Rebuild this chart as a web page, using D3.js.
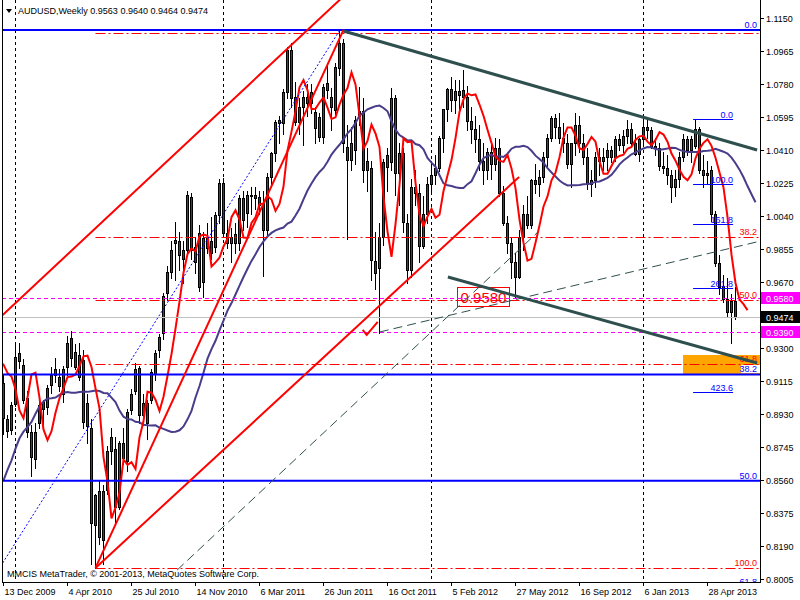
<!DOCTYPE html>
<html><head><meta charset="utf-8">
<script src="https://cdn.jsdelivr.net/npm/d3@7"></script>
<style>
body{margin:0;background:#fff}
svg{display:block}
text{font-family:"Liberation Sans",Arial,sans-serif;font-size:9px}
</style></head>
<body><svg id="c" width="800" height="600"></svg>
<script>
// ---------- DATA (weekly AUDUSD) ----------
const opens=[.9105,.8900,.8840,.8985,.9270,.9205,.9020,.8830,.8675,.8880,
.8960,.8970,.9090,.9150,.9135,.9040,.9195,.9355,.9275,.9260,
.9230,.8990,.8850,.8310,.8500,.8225,.8505,.8725,.8735,.8410,
.8770,.8665,.8952,.9059,.9188,.8992,.8880,.9009,.9154,.9289,
.9384,.9608,.9726,.9890,.9900,.9849,.9849,1.0147,.9866,.9945,
.9670,.9925,.9900,.9866,1.0046,1.0225,.9945,.9890,.9890,.9890,
1.0141,1.0057,1.0150,1.0158,1.0147,1.0113,.9962,1.0259,1.0394,1.0561,
1.0561,1.0735,1.0970,1.0707,1.0567,1.0650,1.0707,1.0673,1.0623,1.0595,
1.0483,1.0785,1.0707,1.0634,1.0870,1.1010,1.0427,1.0354,1.0410,1.0600,
1.0630,1.0300,1.0310,.9790,.9750,.9923,1.0315,1.0340,1.0700,1.0281,
1.0393,1.0000,.9740,1.0200,1.0170,.9870,1.0050,1.0220,1.0270,1.0310,
1.0480,1.0640,1.0750,1.0690,1.0740,1.0745,1.0705,1.0570,1.0530,1.0470,
1.0350,1.0300,1.0400,1.0330,1.0420,1.0170,1.0000,.9890,.9780,.9700,
.9920,1.0050,.9990,1.0240,1.0220,1.0260,1.0370,1.0480,1.0590,1.0540,
1.0480,1.0450,1.0330,1.0450,1.0550,1.0450,1.0370,1.0220,1.0240,1.0370,
1.0350,1.0370,1.0410,1.0370,1.0470,1.0440,1.0490,1.0530,1.0450,1.0390,
1.0470,1.0540,1.0520,1.0430,1.0420,1.0320,1.0310,1.0270,1.0200,1.0250,
1.0370,1.0470,1.0410,1.0430,1.0530,1.0300,1.0270,1.0300,1.0050,.9777,
.9650,.9575,.9500,.9563];
const highs=[.9150,.8925,.9000,.9320,.9330,.9240,.9060,.8870,.8880,.9020,
.9010,.9090,.9195,.9245,.9180,.9200,.9365,.9395,.9320,.9330,
.9290,.9040,.8900,.8480,.8560,.8530,.8750,.8850,.8800,.8780,
.8850,.8960,.9070,.9216,.9200,.9040,.9010,.9180,.9290,.9380,
.9610,.9760,.9900,1.0006,.9950,.9900,1.0180,1.0170,.9920,.9990,
.9950,1.0000,1.0034,1.0060,1.0250,1.0255,1.0020,.9970,1.0000,1.0160,
1.0180,1.0180,1.0200,1.0200,1.0180,1.0180,1.0280,1.0400,1.0580,1.0600,
1.0750,1.0990,1.1012,1.0790,1.0700,1.0740,1.0780,1.0780,1.0650,1.0620,
1.0780,1.0880,1.0760,1.0900,1.1080,1.1030,1.0550,1.0540,1.0600,1.0765,
1.0700,1.0420,1.0350,.9950,1.0000,1.0360,1.0420,1.0758,1.0720,1.0450,
1.0420,1.0050,1.0250,1.0300,1.0220,1.0150,1.0260,1.0350,1.0380,1.0490,
1.0640,1.0760,1.0820,1.0800,1.0800,1.0856,1.0770,1.0650,1.0600,1.0550,
1.0450,1.0420,1.0440,1.0480,1.0470,1.0210,1.0040,.9920,.9830,.9960,
1.0100,1.0150,1.0250,1.0330,1.0300,1.0400,1.0500,1.0600,1.0610,1.0620,
1.0560,1.0500,1.0450,1.0620,1.0600,1.0500,1.0420,1.0300,1.0400,1.0420,
1.0420,1.0450,1.0430,1.0490,1.0500,1.0520,1.0580,1.0560,1.0500,1.0480,
1.0600,1.0580,1.0540,1.0480,1.0450,1.0400,1.0380,1.0300,1.0300,1.0400,
1.0500,1.0490,1.0490,1.0581,1.0540,1.0380,1.0350,1.0320,1.0070,.9820,
.9710,.9690,.9600,.9640];
const lows=[.8820,.8800,.8820,.8975,.9190,.8990,.8800,.8580,.8625,.8850,
.8860,.8930,.9050,.9110,.9060,.9000,.9150,.9200,.9180,.9120,
.8850,.8767,.8090,.8067,.8200,.8090,.8480,.8650,.8320,.8400,
.8650,.8610,.8930,.9040,.8880,.8870,.8790,.8990,.9120,.9250,
.9350,.9570,.9690,.9681,.9740,.9664,.9820,.9800,.9720,.9620,
.9586,.9830,.9800,.9840,1.0000,.9920,.9860,.9780,.9830,.9850,
.9960,.9980,1.0050,1.0080,1.0050,.9706,.9930,1.0220,1.0350,1.0450,
1.0500,1.0700,1.0650,1.0550,1.0500,1.0438,1.0600,1.0620,1.0450,1.0460,
1.0450,1.0700,1.0520,1.0600,1.0830,1.0400,.9912,1.0300,1.0330,1.0550,
1.0230,1.0180,.9680,.9630,.9386,.9880,1.0180,1.0300,1.0160,1.0100,
.9950,.9663,.9700,1.0100,.9780,.9860,1.0000,1.0180,1.0220,1.0290,
1.0400,1.0570,1.0630,1.0620,1.0620,1.0650,1.0520,1.0450,1.0400,1.0300,
1.0220,1.0250,1.0250,1.0300,1.0150,.9990,.9830,.9690,.9581,.9690,
.9850,.9970,.9970,1.0170,1.0150,1.0230,1.0320,1.0460,1.0480,1.0450,
1.0400,1.0310,1.0200,1.0380,1.0400,1.0330,1.0190,1.0150,1.0200,1.0270,
1.0300,1.0300,1.0340,1.0350,1.0410,1.0400,1.0450,1.0440,1.0380,1.0350,
1.0450,1.0480,1.0420,1.0380,1.0300,1.0280,1.0220,1.0120,1.0150,1.0200,
1.0350,1.0380,1.0340,1.0420,1.0280,1.0200,1.0220,1.0010,.9760,.9600,
.9560,.9480,.9328,.9464];
const closes=[.8905,.8835,.8980,.9250,.9225,.9010,.8830,.8690,.8830,.8980,
.9000,.9075,.9150,.9185,.9085,.9185,.9330,.9245,.9195,.9140,
.8885,.8860,.8320,.8475,.8240,.8500,.8725,.8800,.8410,.8770,
.8685,.8940,.9042,.9182,.8924,.8924,.8992,.9165,.9272,.9362,
.9591,.9726,.9849,.9905,.9821,.9800,1.0158,.9849,.9780,.9642,
.9917,.9860,.9830,1.0046,1.0225,.9945,.9890,.9922,.9940,1.0141,
1.0018,1.0158,1.0155,1.0141,1.0102,.9962,1.0259,1.0394,1.0567,1.0578,
1.0735,1.0970,1.0701,1.0567,1.0650,1.0705,1.0673,1.0735,1.0533,1.0483,
1.0763,1.0746,1.0651,1.0875,1.1010,1.0449,1.0354,1.0450,1.0578,1.0630,
1.0300,1.0350,.9793,.9720,.9920,1.0343,1.0382,1.0700,1.0281,1.0393,
1.0008,.9740,1.0200,1.0170,.9870,1.0050,1.0220,1.0270,1.0310,1.0480,
1.0640,1.0750,1.0690,1.0740,1.0720,1.0705,1.0570,1.0530,1.0470,1.0350,
1.0300,1.0400,1.0330,1.0420,1.0170,1.0000,.9890,.9780,.9700,.9920,
1.0050,.9990,1.0240,1.0220,1.0260,1.0370,1.0480,1.0590,1.0540,1.0480,
1.0450,1.0330,1.0450,1.0550,1.0450,1.0370,1.0220,1.0240,1.0370,1.0350,
1.0370,1.0410,1.0370,1.0470,1.0440,1.0490,1.0530,1.0450,1.0390,1.0470,
1.0540,1.0520,1.0430,1.0420,1.0320,1.0310,1.0270,1.0200,1.0250,1.0370,
1.0470,1.0410,1.0470,1.0530,1.0300,1.0270,1.0280,1.0050,.9777,.9642,
.9575,.9500,.9563,.9474];
// closes of the 25 weeks before the first visible bar (only feed the moving averages at the left edge)
const priorCloses=[.7950,.7990,.7800,.7900,.8120,.8300,.8380,.8280,.8360,.8420,
.8480,.8660,.8760,.8660,.8760,.8980,.9230,.9180,.9010,.9170,
.9330,.9170,.9120,.9190,.9110];

const dateLabels=["13 Dec 2009","4 Apr 2010","25 Jul 2010","14 Nov 2010","6 Mar 2011","26 Jun 2011","16 Oct 2011","5 Feb 2012","27 May 2012","16 Sep 2012","6 Jan 2013","28 Apr 2013"];
const dateLabelBars=[0,16,32,48,64,80,96,112,128,144,160,176];
const yearSeparatorBars=[3,55,107,160];
const priceTicks=[1.1150,1.0965,1.0780,1.0595,1.0410,1.0225,1.0040,0.9855,0.9670,0.9300,0.9115,0.8930,0.8745,0.8560,0.8375,0.8190,0.8005];

// indicators: fast and slow moving averages of the closes (period, forward shift in bars)
const fastMA={period:3,shift:3};
const slowMA={period:21,shift:5};

// drawn objects (bar index, price)
const bigFib={p0:1.1083,p100:0.6028,levels:[0,38.2,50,61.8]};
const redFib={startBar:23,p0:1.1066,p100:0.8067,levels:[0,38.2,50,61.8,100]};
const expFib={fromBar:172.4,toBar:182.4,p0:1.0581,p100:1.0220,levels:[0,100,161.8,261.8,423.6]};
const hLevels=[{p:0.9580,label:"0.9580"},{p:0.9390,label:"0.9390"}];
const redTrends=[[[-0.2,0.9485],[76,1.1083]],[[23,0.8067],[128.9,1.0259]],[[23,0.8067],[85,1.1083]]];
const blueDotted=[[-0.2,0.8095],[84.1,1.1083]];
const slateTrends=[[[85,1.1077],[188.4,1.0410]],[[111.1,0.9698],[188.4,0.9216]]];
const slateDashed=[[[43.4,0.8055],[133.6,0.9950]],[[94.1,0.9390],[188.4,0.9895]]];
const zoneBox={fromBar:169.9,toBar:189,pTop:0.9262,pBot:0.9154};
const priceNote={bar:120,p:0.9580,text:"0.9580"};
const checkMark={bar:90.8,p:0.9385};

// ---------- SCALES ----------
const svg=d3.select("#c");
const x=d3.scaleLinear().domain([0,183]).range([3.5,3.5+4*183]);
const y=d3.scaleLinear().domain([0.8005,1.1150]).range([579,18]);
const R=v=>Math.round(v);
const plotL=2,plotR=760,plotB=582;

svg.append("rect").attr("width",800).attr("height",600).attr("fill","#fff");
const defs=svg.append("defs");
defs.append("clipPath").attr("id","plot").append("rect").attr("x",plotL).attr("y",0).attr("width",plotR-plotL).attr("height",plotB);
const g=svg.append("g").attr("clip-path","url(#plot)");

// year separators
yearSeparatorBars.forEach(b=>{
  g.append("line").attr("x1",x(b)).attr("x2",x(b)).attr("y1",0).attr("y2",plotB)
   .attr("stroke","#000").attr("stroke-dasharray","3,3").attr("stroke-width",1);
});

// candles
const cg=g.append("g").attr("shape-rendering","crispEdges");
closes.forEach((c,i)=>{
  const o=opens[i],h=highs[i],l=lows[i];
  const cx=x(i);
  const yh=R(y(h)),yl=R(y(l));
  cg.append("rect").attr("x",cx-0.5).attr("y",yh).attr("width",1).attr("height",Math.max(1,yl-yh+1)).attr("fill","#000");
  const top=R(y(Math.max(o,c))),bot=R(y(Math.min(o,c)));
  cg.append("rect").attr("x",cx-1.5).attr("y",top).attr("width",3).attr("height",bot-top+1).attr("fill","#000");
  if(bot-top>1) cg.append("rect").attr("x",cx-0.5).attr("y",top+1).attr("width",1).attr("height",bot-top-1)
     .attr("fill",c>=o?"#007800":"#e00000");
});

// moving averages
const allCloses=priorCloses.concat(closes);
function sma(period,shift){
  const out=[];
  for(let k=period-1;k<allCloses.length;k++){
    const v=d3.mean(allCloses.slice(k-period+1,k+1));
    const i=k-priorCloses.length+shift;
    if(i>=-1) out.push({i,v});
  }
  return out;
}
const line=d3.line().x(d=>x(d.i)).y(d=>y(d.v));
g.append("path").attr("d",line(sma(slowMA.period,slowMA.shift))).attr("fill","none").attr("stroke","#483d8b").attr("stroke-width",2);
g.append("path").attr("d",line(sma(fastMA.period,fastMA.shift))).attr("fill","none").attr("stroke","#ff0000").attr("stroke-width",2);

// price note box
{
  const cx=x(priceNote.bar),cy=y(priceNote.p);
  g.append("rect").attr("x",R(cx)-26.5).attr("y",R(cy)-10.5).attr("width",52).attr("height",19).attr("fill","none").attr("stroke","#ff0000");
  g.append("text").attr("x",cx).attr("y",cy+5).attr("text-anchor","middle").attr("fill","#ff0000").style("font-size","15px").text(priceNote.text);
}

// orange zone
{
  const zx=R(x(zoneBox.fromBar)),zy=R(y(zoneBox.pTop));
  g.append("rect").attr("x",zx).attr("y",zy).attr("width",R(x(zoneBox.toBar))-zx)
   .attr("height",R(y(zoneBox.pBot))-zy).attr("fill","#ffa500");
}

// horizontal levels
const hl=(p,x1,x2,col,w,dash)=>g.append("line").attr("x1",x1).attr("x2",x2).attr("y1",R(y(p))+0.5).attr("y2",R(y(p))+0.5)
  .attr("stroke",col).attr("stroke-width",w).attr("stroke-dasharray",dash||null);
hl(closes[closes.length-1],plotL,plotR,"#c0c0c0",1);
hLevels.forEach(d=>hl(d.p,plotL,plotR,"#ff00ff",1,"4,3"));
redFib.levels.forEach(lv=>{
  const p=redFib.p0-(redFib.p0-redFib.p100)*lv/100;
  hl(p,x(redFib.startBar),plotR,"#ff0000",1,"10,3,2,3");
  if(lv>0) g.append("text").attr("x",757).attr("y",R(y(p))-2).attr("text-anchor","end").attr("fill","#ff0000").text(lv.toFixed(1));
});
bigFib.levels.forEach(lv=>{
  const p=bigFib.p0-(bigFib.p0-bigFib.p100)*lv/100;
  g.append("line").attr("x1",plotL).attr("x2",plotR).attr("y1",y(p)).attr("y2",y(p)).attr("stroke","#0000ff").attr("stroke-width",2);
});
expFib.levels.forEach(lv=>{
  const p=expFib.p0-(expFib.p0-expFib.p100)*lv/100;
  g.append("line").attr("x1",x(expFib.fromBar)).attr("x2",x(expFib.toBar)).attr("y1",R(y(p))+0.5).attr("y2",R(y(p))+0.5).attr("stroke","#0000ff");
  g.append("text").attr("x",x(expFib.toBar)).attr("y",R(y(p))-1).attr("text-anchor","end").attr("fill","#0000ff").text(lv.toFixed(1));
});

// trend lines
const seg=(a,b,col,w,dash)=>g.append("line").attr("x1",x(a[0])).attr("y1",y(a[1])).attr("x2",x(b[0])).attr("y2",y(b[1]))
   .attr("stroke",col).attr("stroke-width",w).attr("stroke-dasharray",dash||null);
seg(blueDotted[0],blueDotted[1],"#0000ff",1,"2,2");
slateDashed.forEach(s=>seg(s[0],s[1],"#2f4f4f",1,"9,5"));
{
  const [a,b]=redTrends[0];const k=(b[1]-a[1])/(b[0]-a[0]);const e=[b[0]+20,b[1]+k*20];
  seg(a,e,"#ff0000",2);
}
seg(redTrends[1][0],redTrends[1][1],"#ff0000",2);
seg(redTrends[2][0],redTrends[2][1],"#ff0000",2);
slateTrends.forEach(s=>seg(s[0],s[1],"#2f4f4f",3));

// check mark
{
  const cx=x(checkMark.bar),cy=y(checkMark.p);
  g.append("path").attr("d",`M${cx-4},${cy-3} L${cx},${cy+2} L${cx+11},${cy-11}`).attr("fill","none").attr("stroke","#ff0000").attr("stroke-width",2);
}

// big fib labels (on top); white patch behind the 38.2 label as in the picture
bigFib.levels.forEach(lv=>{
  const p=bigFib.p0-(bigFib.p0-bigFib.p100)*lv/100;
  const ly=R(y(p));
  if(lv===38.2) g.append("rect").attr("x",741).attr("y",ly-9).attr("width",19).attr("height",8).attr("fill","#fff");
  g.append("text").attr("x",757).attr("y",ly-2).attr("text-anchor","end").attr("fill","#0000ff").text(lv.toFixed(1));
});

// frame
svg.append("line").attr("x1",2.5).attr("x2",2.5).attr("y1",0).attr("y2",plotB).attr("stroke","#000");
svg.append("line").attr("x1",plotR+0.5).attr("x2",plotR+0.5).attr("y1",0).attr("y2",plotB+1).attr("stroke","#000");
svg.append("line").attr("x1",2).attr("x2",plotR+1).attr("y1",plotB+0.5).attr("y2",plotB+0.5).attr("stroke","#000");

// right axis
priceTicks.forEach(p=>{
  const yy=R(y(p))+0.5;
  svg.append("line").attr("x1",plotR).attr("x2",plotR+4).attr("y1",yy).attr("y2",yy).attr("stroke","#000");
  svg.append("text").attr("x",766).attr("y",yy+3).attr("fill","#000").text(p.toFixed(4));
});
const box=(p,bg,txt)=>{
  const yy=R(y(p));
  svg.append("rect").attr("x",761).attr("y",yy-6).attr("width",39).attr("height",12).attr("fill",bg);
  svg.append("text").attr("x",766).attr("y",yy+3.5).attr("fill","#fff").text(txt);
};
hLevels.forEach(d=>box(d.p,"#ff00ff",d.label));
box(closes[closes.length-1],"#000",closes[closes.length-1].toFixed(4));

// bottom axis
dateLabelBars.forEach((b,k)=>{
  const xx=R(x(b))-0.5;
  svg.append("line").attr("x1",xx).attr("x2",xx).attr("y1",plotB).attr("y2",plotB+4).attr("stroke","#000");
  svg.append("text").attr("x",xx+1).attr("y",595).attr("fill","#000").text(dateLabels[k]);
});

// title and copyright
svg.append("path").attr("d","M6,9 L12,9 L9,13 Z").attr("fill","#000");
svg.append("text").attr("x",18).attr("y",14).attr("fill","#000").text("AUDUSD,Weekly  0.9563 0.9640 0.9464 0.9474");
svg.append("text").attr("x",7).attr("y",577).attr("fill","#000").text("MMCIS MetaTrader, © 2001-2013, MetaQuotes Software Corp.");
</script></body></html>
